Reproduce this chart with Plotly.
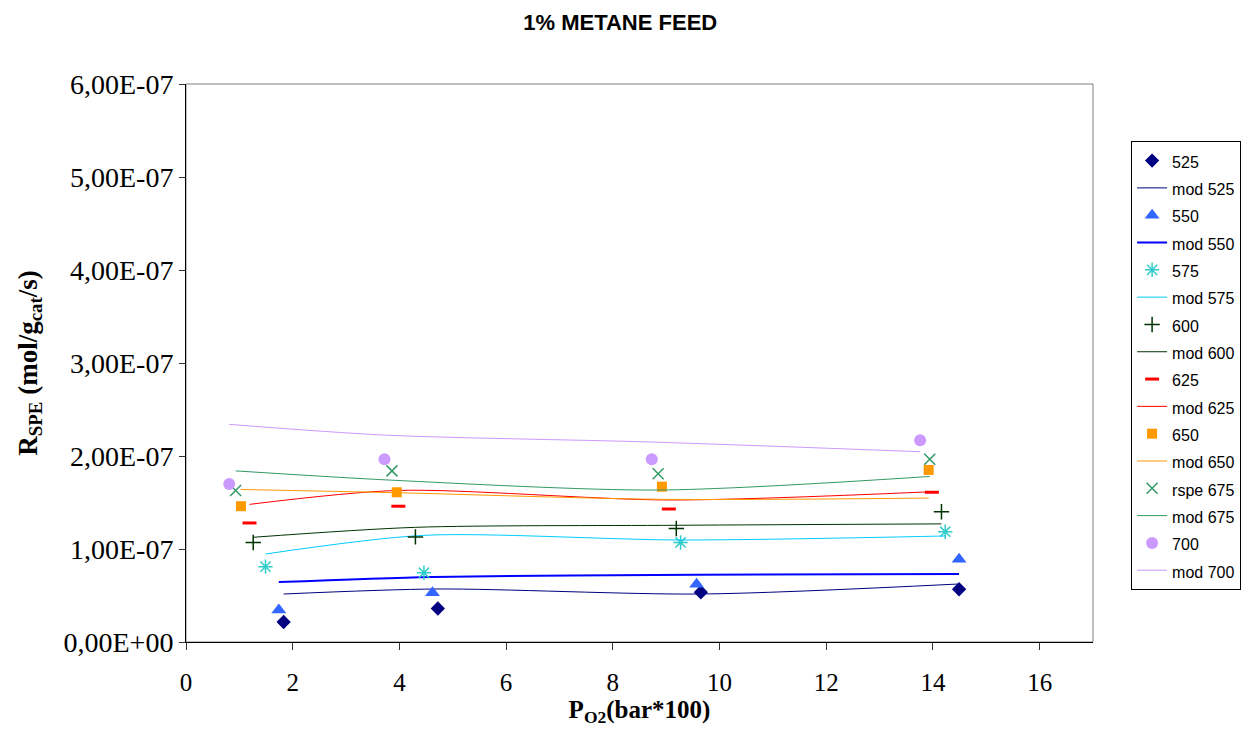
import plotly.graph_objects as go

title_text = "1% METANE FEED"
x_title = "P<sub>O2</sub>(bar*100)"
y_title = "R<sub>SPE</sub> (mol/g<sub>cat</sub>/s)"

x_tick_vals = [0, 2, 4, 6, 8, 10, 12, 14, 16]
y_tick_vals = [0, 1e-7, 2e-7, 3e-7, 4e-7, 5e-7, 6e-7]
y_tick_text = ["0,00E+00", "1,00E-07", "2,00E-07", "3,00E-07", "4,00E-07", "5,00E-07", "6,00E-07"]

# measured points (x = P_O2, y = rate)
x525 = [1.83, 4.72, 9.65, 14.49]
r525 = [0.215e-7, 0.36e-7, 0.535e-7, 0.567e-7]
m525 = [0.516e-7, 0.57e-7, 0.516e-7, 0.624e-7]

x550 = [1.74, 4.62, 9.57, 14.49]
r550 = [0.345e-7, 0.53e-7, 0.62e-7, 0.89e-7]
m550 = [0.645e-7, 0.70e-7, 0.724e-7, 0.73e-7]

x575 = [1.49, 4.46, 9.27, 14.23]
r575 = [0.81e-7, 0.745e-7, 1.07e-7, 1.186e-7]
m575 = [0.946e-7, 1.147e-7, 1.097e-7, 1.14e-7]

x600 = [1.26, 4.30, 9.19, 14.16]
r600 = [1.07e-7, 1.13e-7, 1.22e-7, 1.40e-7]
m600 = [1.126e-7, 1.233e-7, 1.255e-7, 1.27e-7]

x625 = [1.19, 3.98, 9.05, 13.98]
r625 = [1.28e-7, 1.46e-7, 1.43e-7, 1.61e-7]
m625 = [1.48e-7, 1.63e-7, 1.527e-7, 1.616e-7]

x650 = [1.03, 3.95, 8.92, 13.92]
r650 = [1.46e-7, 1.61e-7, 1.67e-7, 1.85e-7]
m650 = [1.64e-7, 1.605e-7, 1.534e-7, 1.548e-7]

x675 = [0.93, 3.86, 8.85, 13.94]
r675 = [1.63e-7, 1.84e-7, 1.81e-7, 1.965e-7]
m675 = [1.84e-7, 1.74e-7, 1.634e-7, 1.78e-7]

x700 = [0.81, 3.72, 8.73, 13.76]
r700 = [1.70e-7, 1.965e-7, 1.965e-7, 2.17e-7]
m700 = [2.34e-7, 2.225e-7, 2.15e-7, 2.046e-7]

series = [
    ("525", "mod 525", x525, r525, m525, "diamond", 11, "#000080", "#000080", 1, 0),
    ("550", "mod 550", x550, r550, m550, "triangle-up", 13, "#3366FF", "#0000FF", 2, 0),
    ("575", "mod 575", x575, r575, m575, "asterisk-open", 12, "#33CCCC", "#00CCFF", 1, 1.5),
    ("600", "mod 600", x600, r600, m600, "cross-thin-open", 11, "#003300", "#003300", 1, 1.5),
    ("625", "mod 625", x625, r625, m625, "line-ew-open", 10, "#FF0000", "#FF0000", 1, 3),
    ("650", "mod 650", x650, r650, m650, "square", 10, "#FF9900", "#FF9900", 1, 0),
    ("rspe 675", "mod 675", x675, r675, m675, "x-thin-open", 11, "#339966", "#339966", 1, 1.5),
    ("700", "mod 700", x700, r700, m700, "circle", 12, "#CC99FF", "#CC99FF", 1, 0),
]


def lg(txt):
    return "<span style='font-size:16px'>" + txt + "</span>"


fig = go.Figure()
for name, mname, xs, rs, ms, sym, size, mcol, lcol, lw, mlw in series:
    fig.add_trace(go.Scatter(
        x=xs, y=rs, mode="markers", name=lg(name),
        marker=dict(symbol=sym, size=size, color=mcol,
                    line=dict(color=mcol, width=mlw)),
    ))
    fig.add_trace(go.Scatter(
        x=xs, y=ms, mode="lines", name=lg(mname),
        line=dict(color=lcol, width=lw, shape="spline", smoothing=0.8),
    ))

serif = "Liberation Serif, Times New Roman, serif"
sans = "Liberation Sans, Arial, sans-serif"

fig.update_layout(
    width=1252, height=729,
    margin=dict(l=178, r=167, t=76, b=95),
    paper_bgcolor="white", plot_bgcolor="white",
    title=dict(text="<b>" + title_text + "</b>", x=0.489, xanchor="center",
               y=0.981, yanchor="middle",
               font=dict(family=sans, size=22, color="black")),
    showlegend=True,
    legend=dict(x=1.042, xanchor="left", y=0.898, yanchor="top",
                bordercolor="black", borderwidth=1, bgcolor="white",
                font=dict(family=sans, size=18.7, color="black"),
                tracegroupgap=0),
    xaxis=dict(range=[0, 17], tickvals=x_tick_vals, showgrid=False, zeroline=False,
               showline=True, linecolor="black", linewidth=1,
               ticks="outside", ticklen=7, tickcolor="#333333",
               ticklabelstandoff=11,
               tickfont=dict(family=serif, size=25, color="black"),
               title=dict(text="<b>" + x_title + "</b>", standoff=2,
                          font=dict(family=serif, size=25, color="black"))),
    yaxis=dict(range=[0, 6e-7], tickvals=y_tick_vals, ticktext=y_tick_text,
               showgrid=False, zeroline=False,
               showline=True, linecolor="black", linewidth=1,
               ticks="outside", ticklen=6, tickcolor="#333333",
               tickfont=dict(family=serif, size=28, color="black"),
               title=dict(text="<b>" + y_title + "</b>", standoff=18,
                          font=dict(family=serif, size=27, color="black"))),
    shapes=[dict(type="rect", xref="paper", yref="paper", x0=0, x1=1, y0=0, y1=1,
                 line=dict(color="#808080", width=1), layer="below")],
)

fig.write_html("out.html")
